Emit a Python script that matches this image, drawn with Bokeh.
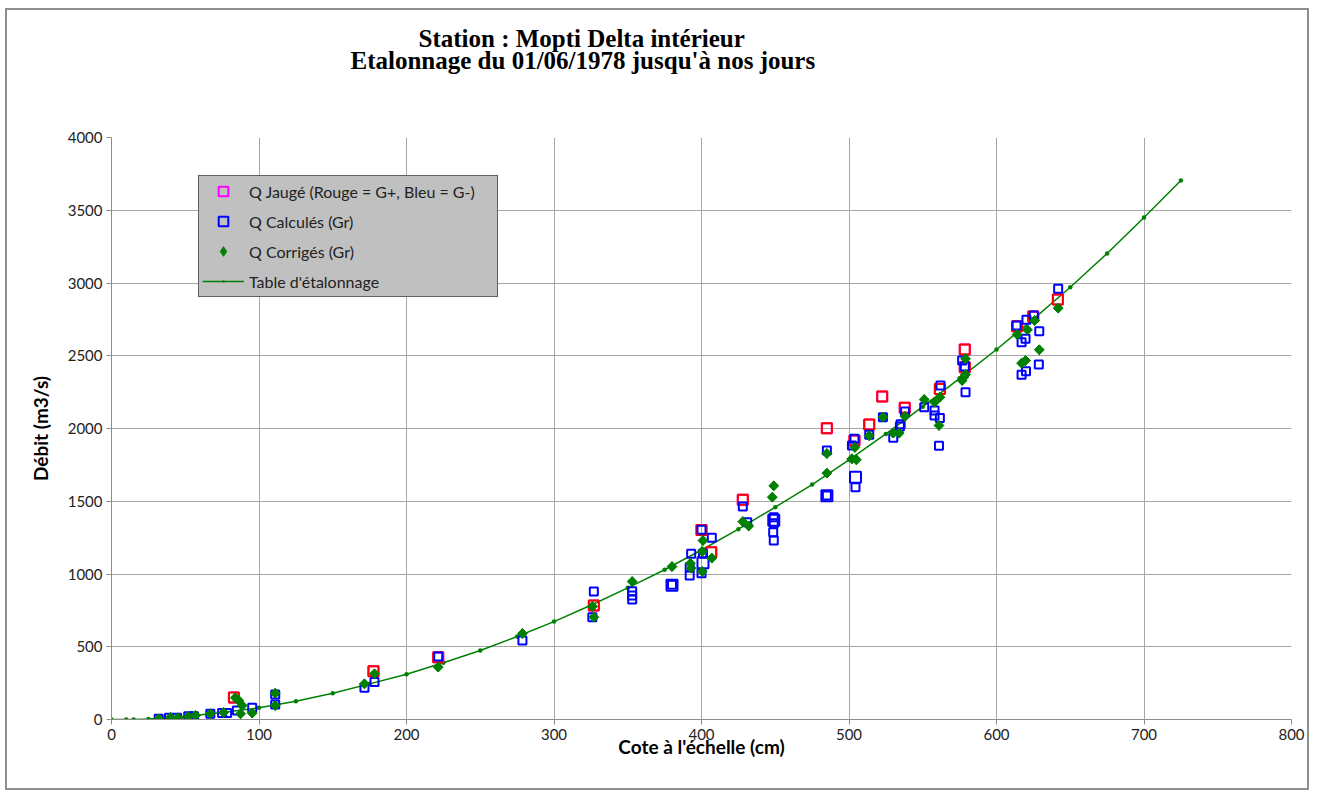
import numpy as np
from bokeh.plotting import figure
from bokeh.models import Range1d, Title, Legend, LegendItem, FixedTicker
from bokeh.embed import file_html
from bokeh.resources import INLINE

# ---------------- data ----------------
x_ticks = [0, 100, 200, 300, 400, 500, 600, 700, 800]
y_ticks = [0, 500, 1000, 1500, 2000, 2500, 3000, 3500, 4000]

# Table d'étalonnage
table_h = [0, 10, 15, 25, 50, 75, 100, 125, 150, 175, 200, 225, 250, 275, 300, 325, 350,
           375, 400, 425, 450, 475, 500, 525, 550, 575, 600, 625, 650, 675, 700, 725]
table_q = [0, 0, 0, 3, 20, 48, 80, 126, 181, 245, 311, 390, 474, 570, 673, 785, 905,
           1029, 1165, 1308, 1459, 1615, 1785, 1963, 2150, 2345, 2543, 2752, 2971, 3203, 3450, 3704]

# Q Jaugé, rouge (G+)
jauge_red_h = [83, 177.6, 221.5, 327, 400, 406.6, 428, 485, 503.7, 513.7, 522.5, 537.8,
               561.6, 578.5, 578.5, 614, 624.9, 641.6]
jauge_red_q = [151, 332, 428, 783, 1302, 1150, 1510, 2002, 1917, 2027, 2220, 2142,
               2272, 2543, 2421, 2703, 2770, 2887]

# Q Jaugé, bleu (G-)
jauge_blue_h = [504.4, 449, 401, 380, 485]
jauge_blue_q = [1665, 1370, 1077, 922, 1538]

# Q Calculés (Gr)
calc_h = [32, 39, 44.5, 52, 56, 67, 75, 78.4, 85, 95.4, 111, 111,
          171.5, 178.3, 221.5, 278.6,
          327, 326, 353, 353, 353, 380, 393, 392, 392, 400, 407, 401, 400,
          428, 431, 449, 449, 448.6, 449,
          485, 485, 503.7, 502, 504.4, 513.7, 523, 530, 535, 534.5, 538, 551, 558, 558,
          561.6, 561, 562, 579, 578.5, 576.7, 613.6, 620.3, 625.3, 619.7, 617, 629,
          620, 617, 628.7, 641.8]
calc_q = [5, 12, 12, 23, 23, 39, 44, 44, 62, 80, 103, 172,
          218, 257, 433, 543,
          880, 703, 882, 852, 825, 926, 1139, 1047, 990, 1304, 1249, 1139, 1006,
          1464, 1356, 1390, 1349, 1287, 1230,
          1849, 1540, 1929, 1883, 1597, 1957, 2078, 1936, 2030, 2014, 2117, 2146, 2124, 2089,
          2073, 1881, 2296, 2249, 2426, 2467, 2708, 2747, 2777, 2616, 2593, 2669,
          2393, 2369, 2440, 2960]

# Q Corrigés (Gr)
corr_h = [32, 40, 45, 52, 57, 67, 76, 84, 86.3, 88.6, 87.5, 95.4, 111, 111,
          171.5, 178.3, 221.5, 278.6, 326, 327, 353, 380, 392.5, 393,
          401, 400.5, 400.5, 407, 428, 432, 449, 448,
          485, 485, 504, 502, 505, 513.7, 523, 530, 534, 538, 551, 558, 561.6, 561,
          576.7, 577.8, 579, 579, 614, 621, 625.8, 629, 619.7, 617, 641.8]
corr_q = [5, 15, 12, 20, 28, 40, 48, 149, 131, 96, 39, 44, 181, 96,
          245, 314, 360, 591, 777, 703, 948, 1051, 1074, 1040,
          1230, 1155, 1017, 1109, 1360, 1330, 1606, 1528,
          1828, 1693, 1870, 1792, 1785, 1950, 2078, 1968, 1968, 2083, 2199, 2181, 2215, 2021,
          2330, 2353, 2371, 2479, 2646, 2678, 2742, 2541, 2467, 2449, 2827]

title_line1 = "Station : Mopti Delta intérieur"
title_line2 = "Etalonnage du 01/06/1978 jusqu'à nos jours"
x_label = "Cote à l'échelle (cm)"
y_label = "Débit (m3/s)"

# ---------------- figure ----------------
p = figure(width=1304, height=782,
           x_range=Range1d(0, 800), y_range=Range1d(0, 4000),
           output_backend="svg", toolbar_location=None,
           min_border_left=104, min_border_right=20,
           min_border_top=127, min_border_bottom=73)
p.styles = {"margin-left": "5px", "margin-top": "8px",
            "border": "2px solid #8e8e8e"}
p.outline_line_color = None
p.background_fill_color = "white"
p.border_fill_color = "white"

# titles (stacked outward from the frame: spacer, line 2, line 1)
p.add_layout(Title(text=" ", text_font_size="40px", standoff=21), "above")
p.add_layout(Title(text=title_line2, align="left", offset=239,
                   text_font="Liberation Serif", text_font_style="bold",
                   text_font_size="25px", text_color="black", standoff=-7), "above")
p.add_layout(Title(text=title_line1, align="left", offset=307,
                   text_font="Liberation Serif", text_font_style="bold",
                   text_font_size="25px", text_color="black", standoff=-7), "above")

for ax, ticks in ((p.xaxis, x_ticks), (p.yaxis, y_ticks)):
    ax.ticker = FixedTicker(ticks=ticks)
    ax.axis_line_color = "#8c8c8c"
    ax.major_tick_line_color = "#8c8c8c"
    ax.major_tick_out = 5
    ax.major_tick_in = 0
    ax.minor_tick_out = 0
    ax.minor_tick_in = 0
    ax.major_label_text_font = "Lato"
    ax.major_label_text_font_size = "15px"
    ax.major_label_text_color = "#222222"
    ax.axis_label_text_font = "Lato"
    ax.axis_label_text_font_style = "bold"
    ax.axis_label_text_font_size = "19px"
    ax.axis_label_text_color = "black"

p.xaxis.axis_label = x_label
p.yaxis.axis_label = y_label
p.xaxis.major_label_standoff = 4
p.yaxis.major_label_standoff = 4
p.xaxis.axis_label_standoff = -8
p.yaxis.axis_label_standoff = 13

p.xgrid.ticker = FixedTicker(ticks=x_ticks)
p.ygrid.ticker = FixedTicker(ticks=y_ticks)
for g in (p.xgrid, p.ygrid):
    g.grid_line_color = "#a6a6a6"
    g.grid_line_width = 1

green = "#008000"

line_r = p.line(table_h, table_q, line_color=green, line_width=1.5)
dots_r = p.scatter(table_h, table_q, marker="dot", size=18, line_color=green, fill_color=green)

# magenta renderer (legend symbol for Q Jaugé), hidden under the red squares
jauge_leg = p.scatter(jauge_red_h, jauge_red_q, marker="square", size=10, fill_color=None,
                      line_color="#ff00ff", line_width=2)
red_r = p.scatter(jauge_red_h, jauge_red_q, marker="square", size=10, fill_color=None,
                  line_color="#ff0000", line_width=2)
jb_r = p.scatter(jauge_blue_h, jauge_blue_q, marker="square", size=11, fill_color=None,
                 line_color="#0000ff", line_width=2)
calc_r = p.scatter(calc_h, calc_q, marker="square", size=8, fill_color=None,
                   line_color="#0000ff", line_width=2)
# diamond renderer (legend symbol), hidden under the rotated squares
corr_leg = p.scatter(corr_h, corr_q, marker="diamond", size=9.5,
                     fill_color=green, line_color=green)
corr_r = p.scatter(corr_h, corr_q, marker="square", angle=np.pi / 4, size=7,
                   fill_color=green, line_color=green)

legend = Legend(items=[
    LegendItem(label="Q Jaugé (Rouge = G+, Bleu = G-)", renderers=[jauge_leg]),
    LegendItem(label="Q Calculés (Gr)", renderers=[calc_r]),
    LegendItem(label="Q Corrigés (Gr)", renderers=[corr_leg]),
    LegendItem(label="Table d'étalonnage", renderers=[line_r, dots_r]),
], location=(87, 422))
legend.background_fill_color = "#c0c0c0"
legend.background_fill_alpha = 1
legend.border_line_color = "black"
legend.border_line_width = 1.5
legend.padding = 3
legend.spacing = 6
legend.margin = 0
legend.glyph_width = 42
legend.glyph_height = 24
legend.label_height = 24
legend.label_width = 245
legend.label_standoff = 5
legend.label_text_font = "Lato"
legend.label_text_font_size = "16px"
legend.label_text_color = "#222222"
p.add_layout(legend)

open("out.html", "w").write(file_html(p, INLINE))
